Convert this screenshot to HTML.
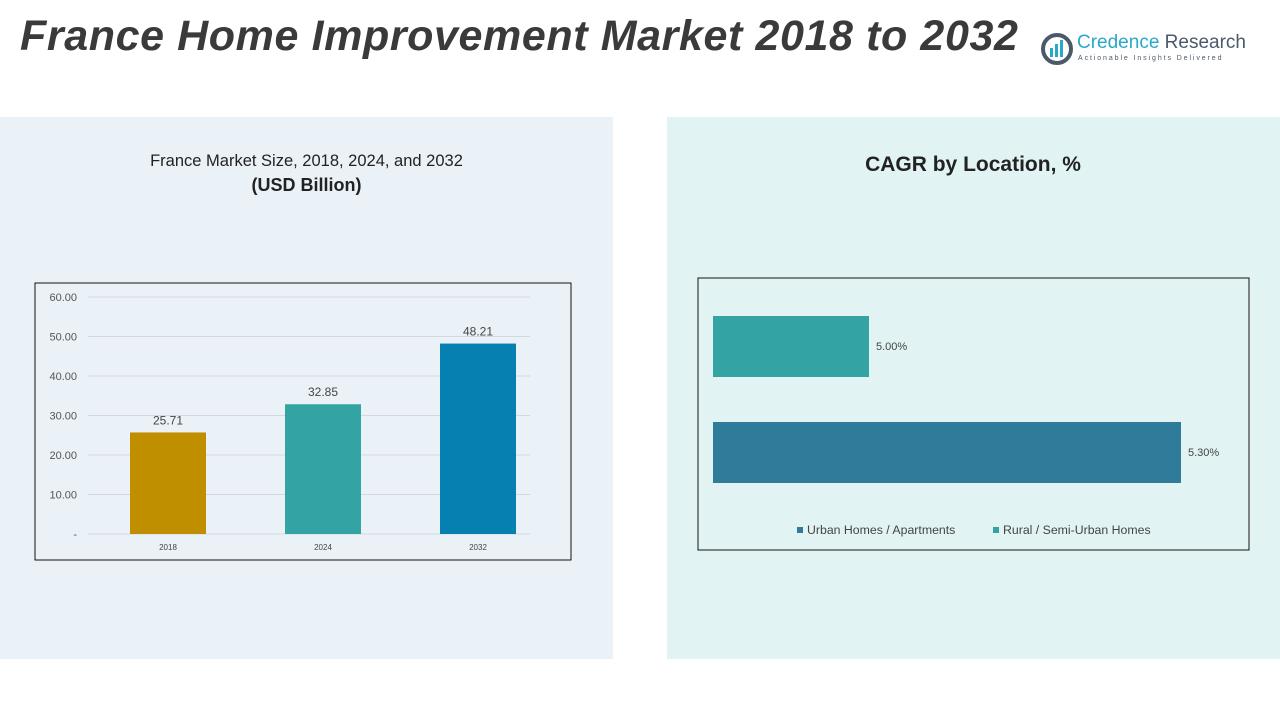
<!DOCTYPE html>
<html><head><meta charset="utf-8"><style>
body{margin:0;width:1280px;height:720px;background:#fff;position:relative;overflow:hidden;font-family:"Liberation Sans",sans-serif;}
.abs{position:absolute;}
</style></head><body>
<div class="abs" style="left:20px;top:12px;font-size:43px;font-weight:bold;font-style:italic;color:#3a3a3a;letter-spacing:0.6px;white-space:nowrap">France Home Improvement Market 2018 to 2032</div>
<div class="abs" style="left:1040px;top:30px;width:220px;height:40px">
<svg width="34" height="34" viewBox="0 0 34 34" style="position:absolute;left:0;top:2px"><circle cx="17" cy="17" r="14" fill="none" stroke="#4a5a6a" stroke-width="4"/><rect x="10" y="16" width="3" height="9" fill="#2aa8c8"/><rect x="15" y="12" width="3" height="13" fill="#2aa8c8"/><rect x="20" y="8" width="3" height="17" fill="#2aa8c8"/></svg>
<div class="abs" style="left:37px;top:2px;font-size:19px;color:#2aa8c8;white-space:nowrap">Credence <span style="color:#4a5a6a">Research</span></div>
<div class="abs" style="left:38px;top:25px;font-size:7px;letter-spacing:1.9px;color:#4a5a6a;white-space:nowrap">Actionable Insights Delivered</div>
</div>
<div class="abs" style="left:0;top:117px;width:613px;height:542px;background:#eaf2f8"></div>
<div class="abs" style="left:667px;top:117px;width:613px;height:542px;background:#e2f3f3"></div>
<div class="abs" style="left:0;top:152px;width:613px;text-align:center;font-size:16.5px;color:#222">France Market Size, 2018, 2024, and 2032<br><b style="font-size:18px;line-height:28px">(USD Billion)</b></div>
<div class="abs" style="left:773px;top:153px;width:400px;text-align:center;font-size:21px;font-weight:bold;color:#222">CAGR by Location, %</div>
<svg class="abs" style="left:0;top:0" width="1280" height="720" id="svg"></svg>
<script>
const years=["2018","2024","2032"];
const sizes=[25.71,32.85,48.21];
const barColors=["#c08f00","#33a3a3","#0580b0"];
const yTicks=[0,10,20,30,40,50,60];
const locations=["Rural / Semi-Urban Homes","Urban Homes / Apartments"];
const cagr=[5.00,5.30];
const hColors=["#33a3a3","#2f7b9a"];
const ns="http://www.w3.org/2000/svg";
const svg=document.getElementById('svg');
function mk(t,a,txt){const e=document.createElementNS(ns,t);for(const k in a)e.setAttribute(k,a[k]);if(txt!==undefined)e.textContent=txt;svg.appendChild(e);return e;}
let f=mk('rect',{x:35,y:283,width:536,height:277,fill:'none',stroke:'#111','stroke-width':1});


const y=v=>534-v*237/60;
yTicks.forEach(t=>{
 let g=mk('line',{x1:88,x2:530,y1:y(t),y2:y(t),stroke:'#d4d8dc','stroke-width':1});
 
 
 let l=mk('text',{x:77,y:y(t)+4,'text-anchor':'end','font-size':11,fill:'#555'},t===0?'-':t.toFixed(2));
 
 
});
const cx=i=>168+i*155;
years.forEach((yr,i)=>{
 let b=mk('rect',{x:cx(i)-38,y:y(sizes[i]),width:76,height:y(0)-y(sizes[i]),fill:barColors[i]});
 
 
 let v=mk('text',{x:cx(i),y:y(sizes[i])-8,'text-anchor':'middle','font-size':12,fill:'#444'},sizes[i].toFixed(2));
 
 
 let c=mk('text',{x:cx(i),y:550,'text-anchor':'middle','font-size':8,fill:'#444'},yr);
 
 
});
let f2=mk('rect',{x:698,y:278,width:551,height:272,fill:'none',stroke:'#111','stroke-width':1});


const xMin=4.85, xs=v=>713+(v-xMin)*1040;
const by=i=>316+i*106;
cagr.forEach((v,i)=>{
 let b=mk('rect',{x:713,y:by(i),width:xs(v)-713,height:61,fill:hColors[i]});
 
 
 let t=mk('text',{x:xs(v)+7,y:by(i)+34,'font-size':11,fill:'#444'},v.toFixed(2)+'%');
 
 
});
[[797,"#2f7b9a",locations[1]],[993,"#33a3a3",locations[0]]].forEach(([x,c,l])=>{
 let s=mk('rect',{x:x,y:527,width:6,height:6,fill:c});
 
 
 let t=mk('text',{x:x+10,y:534,'font-size':12.3,fill:'#444'},l);
 
 
});
</script>
</body></html>
